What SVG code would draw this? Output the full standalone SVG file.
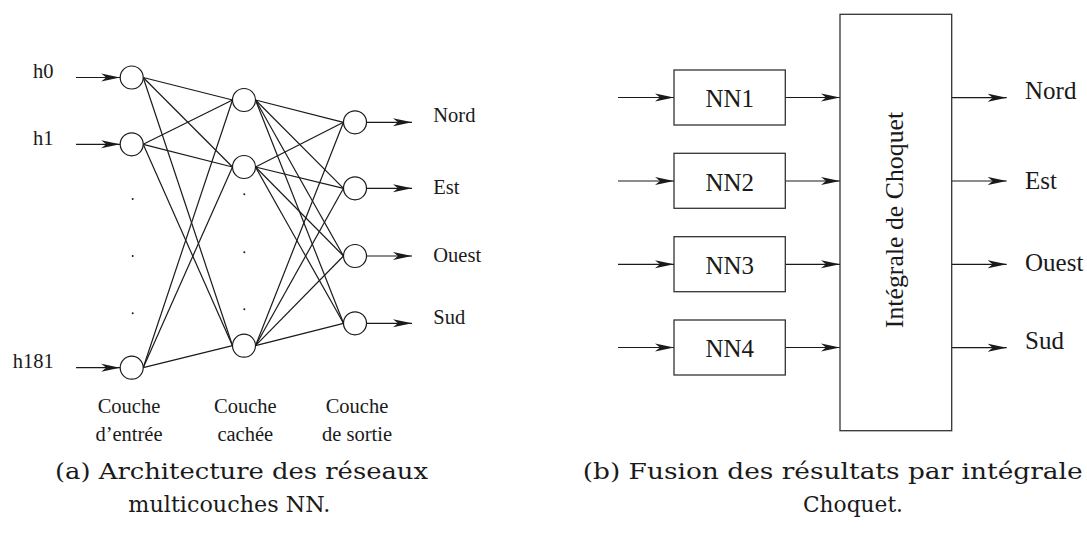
<svg xmlns="http://www.w3.org/2000/svg" width="1087" height="533" viewBox="0 0 1087 533">
<style>
.t{font-family:"Liberation Serif","Times New Roman",serif;fill:#1a1a1a}
.s{font-size:20.5px}
.m{font-size:25px}
.c{font-family:"DejaVu Serif","Liberation Serif",serif;font-size:22.5px;fill:#1a1a1a}
.ln{stroke:#1a1a1a;stroke-width:1.2;fill:none}
.nd{stroke:#1a1a1a;stroke-width:1.2;fill:#fff}
.bx{stroke:#333;stroke-width:1.3;fill:#fff}
.dot{fill:#1a1a1a}
</style>
<defs>
<marker id="ah" viewBox="0 0 19 9" refX="19" refY="4.5" markerWidth="19" markerHeight="9" markerUnits="userSpaceOnUse" orient="auto">
<path d="M0,0.5 L19,4.5 L0,8.5 L5,4.5 Z" fill="#1a1a1a"/>
</marker>
</defs>

<g id="connectors">
<line class="ln" x1="76" y1="77.5" x2="120.2" y2="77.5" marker-end="url(#ah)"/>
<line class="ln" x1="76" y1="144.3" x2="120.2" y2="144.3" marker-end="url(#ah)"/>
<line class="ln" x1="76" y1="367.7" x2="120.2" y2="367.7" marker-end="url(#ah)"/>
<line class="ln" x1="143.2" y1="77.5" x2="232.5" y2="100"/>
<line class="ln" x1="143.2" y1="77.5" x2="232.5" y2="167"/>
<line class="ln" x1="143.2" y1="77.5" x2="232.5" y2="345.7"/>
<line class="ln" x1="143.2" y1="144.3" x2="232.5" y2="100"/>
<line class="ln" x1="143.2" y1="144.3" x2="232.5" y2="167"/>
<line class="ln" x1="143.2" y1="144.3" x2="232.5" y2="345.7"/>
<line class="ln" x1="143.2" y1="367.7" x2="232.5" y2="100"/>
<line class="ln" x1="143.2" y1="367.7" x2="232.5" y2="167"/>
<line class="ln" x1="143.2" y1="367.7" x2="232.5" y2="345.7"/>
<line class="ln" x1="255.5" y1="100" x2="343.5" y2="122.3"/>
<line class="ln" x1="255.5" y1="100" x2="343.5" y2="188.3"/>
<line class="ln" x1="255.5" y1="100" x2="343.5" y2="256"/>
<line class="ln" x1="255.5" y1="100" x2="343.5" y2="323.3"/>
<line class="ln" x1="255.5" y1="167" x2="343.5" y2="122.3"/>
<line class="ln" x1="255.5" y1="167" x2="343.5" y2="188.3"/>
<line class="ln" x1="255.5" y1="167" x2="343.5" y2="256"/>
<line class="ln" x1="255.5" y1="167" x2="343.5" y2="323.3"/>
<line class="ln" x1="255.5" y1="345.7" x2="343.5" y2="122.3"/>
<line class="ln" x1="255.5" y1="345.7" x2="343.5" y2="188.3"/>
<line class="ln" x1="255.5" y1="345.7" x2="343.5" y2="256"/>
<line class="ln" x1="255.5" y1="345.7" x2="343.5" y2="323.3"/>
<line class="ln" x1="366.5" y1="122.3" x2="412" y2="122.3" marker-end="url(#ah)"/>
<line class="ln" x1="366.5" y1="188.3" x2="412" y2="188.3" marker-end="url(#ah)"/>
<line class="ln" x1="366.5" y1="256" x2="412" y2="256" marker-end="url(#ah)"/>
<line class="ln" x1="366.5" y1="323.3" x2="412" y2="323.3" marker-end="url(#ah)"/>
<line class="ln" x1="618" y1="97.5" x2="674" y2="97.5" marker-end="url(#ah)"/>
<line class="ln" x1="618" y1="181" x2="674" y2="181" marker-end="url(#ah)"/>
<line class="ln" x1="618" y1="264.3" x2="674" y2="264.3" marker-end="url(#ah)"/>
<line class="ln" x1="618" y1="347.5" x2="674" y2="347.5" marker-end="url(#ah)"/>
<line class="ln" x1="785.3" y1="97.5" x2="840" y2="97.5" marker-end="url(#ah)"/>
<line class="ln" x1="785.3" y1="181" x2="840" y2="181" marker-end="url(#ah)"/>
<line class="ln" x1="785.3" y1="264.3" x2="840" y2="264.3" marker-end="url(#ah)"/>
<line class="ln" x1="785.3" y1="347.5" x2="840" y2="347.5" marker-end="url(#ah)"/>
<line class="ln" x1="951.7" y1="97.7" x2="1006.7" y2="97.7" marker-end="url(#ah)"/>
<line class="ln" x1="951.7" y1="181" x2="1006.7" y2="181" marker-end="url(#ah)"/>
<line class="ln" x1="951.7" y1="264.3" x2="1006.7" y2="264.3" marker-end="url(#ah)"/>
<line class="ln" x1="951.7" y1="347.7" x2="1006.7" y2="347.7" marker-end="url(#ah)"/>
</g>

<g id="in-h0"><circle class="nd" cx="131.7" cy="77.5" r="11.5"/><text class="t s" x="33" y="78">h0</text></g>
<g id="in-h1"><circle class="nd" cx="131.7" cy="144.3" r="11.5"/><text class="t s" x="33" y="145">h1</text></g>
<g id="in-h181"><circle class="nd" cx="131.7" cy="367.7" r="11.5"/><text class="t s" x="12.7" y="367.5">h181</text></g>
<g id="hid-1"><circle class="nd" cx="244" cy="100" r="11.5"/></g>
<g id="hid-2"><circle class="nd" cx="244" cy="167" r="11.5"/></g>
<g id="hid-n"><circle class="nd" cx="244" cy="345.7" r="11.5"/></g>
<g id="out-nord"><circle class="nd" cx="355" cy="122.3" r="11.5"/><text class="t s" x="433.3" y="122.3">Nord</text></g>
<g id="out-est"><circle class="nd" cx="355" cy="188.3" r="11.5"/><text class="t s" x="433.3" y="194">Est</text></g>
<g id="out-ouest"><circle class="nd" cx="355" cy="256" r="11.5"/><text class="t s" x="433.3" y="261.5">Ouest</text></g>
<g id="out-sud"><circle class="nd" cx="355" cy="323.3" r="11.5"/><text class="t s" x="433.3" y="324">Sud</text></g>
<g id="dots">
<circle class="dot" cx="132.7" cy="199" r="1"/>
<circle class="dot" cx="132.7" cy="256" r="1"/>
<circle class="dot" cx="132.7" cy="313.3" r="1"/>
<circle class="dot" cx="244.3" cy="194.3" r="1"/>
<circle class="dot" cx="244.3" cy="252.3" r="1"/>
<circle class="dot" cx="244.3" cy="309.3" r="1"/>
</g>
<g id="layer-labels" text-anchor="middle">
<text class="t s" x="129" y="413.3">Couche</text>
<text class="t s" x="129" y="441">d’entrée</text>
<text class="t s" x="245.3" y="413.3">Couche</text>
<text class="t s" x="245.3" y="441">cachée</text>
<text class="t s" x="357" y="413.3">Couche</text>
<text class="t s" x="357" y="441">de sortie</text>
</g>

<g id="nn1"><rect class="bx" x="674" y="70" width="111.3" height="55"/><text class="t m" x="729.7" y="107.3" text-anchor="middle">NN1</text></g>
<g id="nn2"><rect class="bx" x="674" y="153.3" width="111.3" height="55"/><text class="t m" x="729.7" y="190.8" text-anchor="middle">NN2</text></g>
<g id="nn3"><rect class="bx" x="674" y="236.7" width="111.3" height="55"/><text class="t m" x="729.7" y="274.1" text-anchor="middle">NN3</text></g>
<g id="nn4"><rect class="bx" x="674" y="320" width="111.3" height="55"/><text class="t m" x="729.7" y="357.3" text-anchor="middle">NN4</text></g>
<g id="choquet"><rect class="bx" x="840" y="14.3" width="111.7" height="416.4"/><text class="t" font-size="25.8" transform="translate(902.7,220) rotate(-90)" text-anchor="middle">Intégrale de Choquet</text></g>
<g id="outputs-b">
<text class="t m" x="1025" y="99">Nord</text>
<text class="t m" x="1025" y="188.5">Est</text>
<text class="t m" x="1025" y="271">Ouest</text>
<text class="t m" x="1025" y="348.5">Sud</text>
</g>

<g id="captions">
<text class="c" x="55" y="479" textLength="373" lengthAdjust="spacingAndGlyphs">(a) Architecture des réseaux</text>
<text class="c" x="128.3" y="512" textLength="202" lengthAdjust="spacingAndGlyphs">multicouches NN.</text>
<text class="c" x="582.7" y="479" textLength="500" lengthAdjust="spacingAndGlyphs">(b) Fusion des résultats par intégrale</text>
<text class="c" x="803" y="512" textLength="100" lengthAdjust="spacingAndGlyphs">Choquet.</text>
</g>
</svg>
